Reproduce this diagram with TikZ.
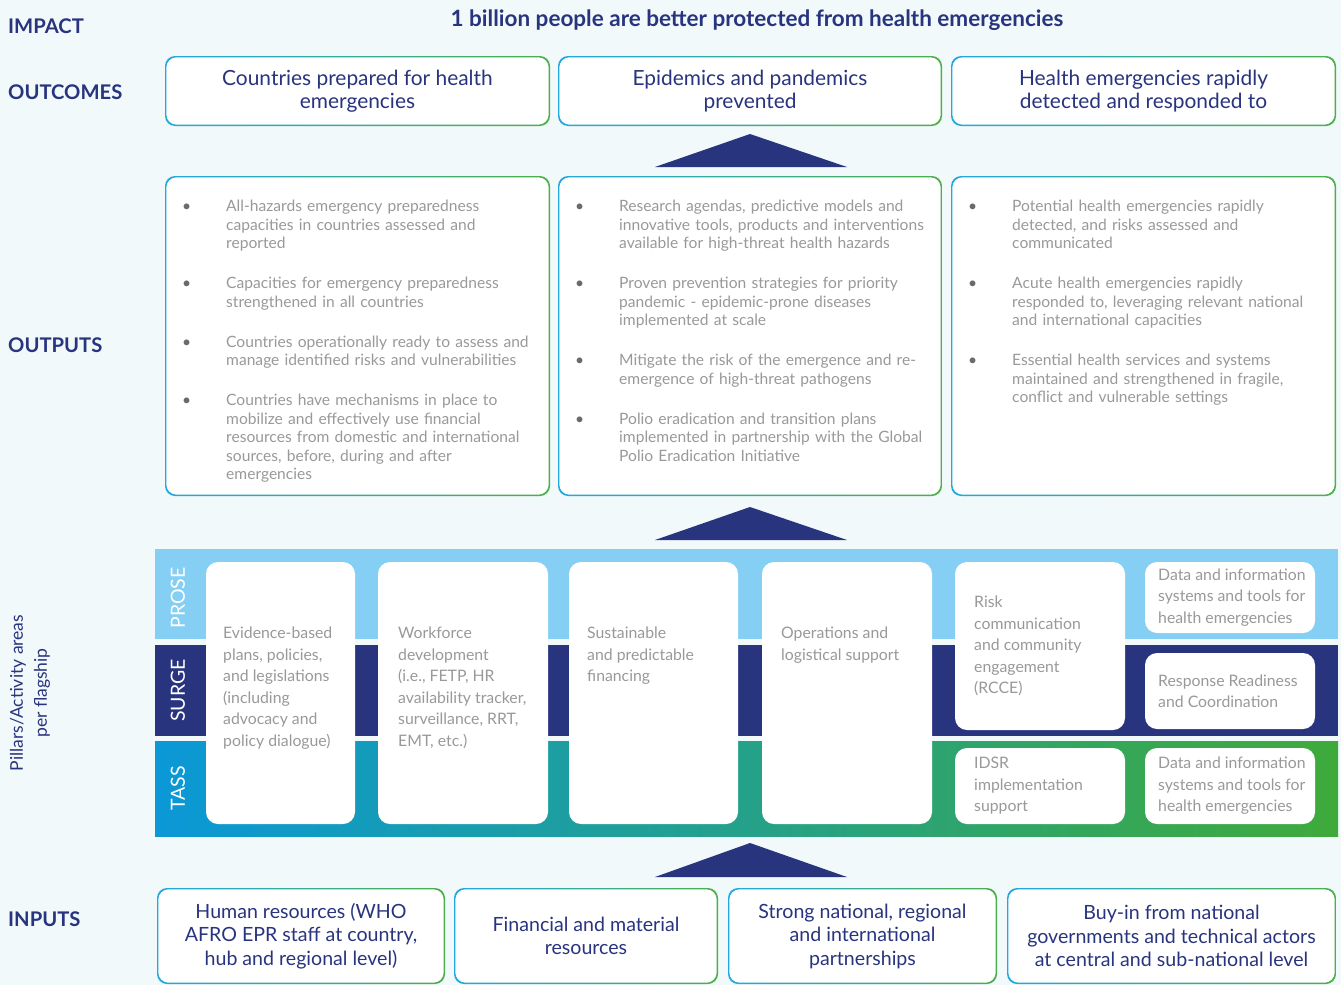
\documentclass[tikz,border=0pt]{standalone}
\usepackage{fontspec}
\setmainfont{Lato}
\usepackage{enumitem}
\usetikzlibrary{positioning,calc}

\definecolor{navy}{HTML}{29347F}
\definecolor{pagebg}{HTML}{F1F9FA}
\definecolor{prose}{HTML}{84CFF3}
\definecolor{tassblue}{HTML}{0A98D7}
\definecolor{tassteal}{HTML}{009F96}
\definecolor{tassgreen}{HTML}{3FAA3B}
\definecolor{rimblue}{HTML}{22A8E0}
\definecolor{rimgreen}{HTML}{4CAF4A}
\definecolor{txtgray}{HTML}{999999}
\definecolor{bulgray}{HTML}{6A6A6A}

\setlist[itemize]{label=\textcolor{bulgray}{\textbullet}, leftmargin=44pt, labelwidth=44pt,
  labelindent=0pt, labelsep=0pt, align=left, itemsep=21.5pt, parsep=0pt, topsep=0pt, partopsep=0pt}

\tikzset{
  rowlabel/.style={anchor=west, inner sep=0, text=navy, font=\fontsize{20.2}{23}\selectfont\bfseries},
  framebox/.style={anchor=north west, fill=white, rounded corners=10pt, inner sep=0, outer sep=0,
    align=center, text=navy, font=\fontsize{19.6}{23.5}\selectfont},
  outlist/.style={text width=370pt, inner sep=0, text=txtgray, font=\fontsize{15.6}{18.5}\selectfont},
  band/.style={anchor=north west, minimum width=1183pt, inner sep=0, outer sep=0},
  bandlabel/.style={rotate=90, inner sep=0, text=white, font=\fontsize{19.5}{19.5}\selectfont},
  tile/.style={anchor=north west, fill=white, rounded corners=12pt, inner sep=0, outer sep=0,
    minimum width=170pt},
  tiletext/.style={inner sep=0, align=left, text=txtgray, font=\fontsize{15.8}{21.5}\selectfont},
}

% blue-to-green rim round a white box
\newcommand\rim[1]{%
  \shade[even odd rule, rounded corners=10pt, left color=rimblue, right color=rimgreen]
    (#1.north west) rectangle (#1.south east)
    ($(#1.north west)+(1.3pt,-1.3pt)$) rectangle ($(#1.south east)+(-1.3pt,1.3pt)$);}

\begin{document}
\begin{tikzpicture}[x=1pt,y=-1pt]
  \fill[pagebg] (0,0) rectangle (1341,985);
  \useasboundingbox (0,0) rectangle (1341,985);

  % row headings
  \node[rowlabel] (impact) at (8,26) {IMPACT};
  \node[rowlabel] (outcomes) at (8,92) {OUTCOMES};
  \node[rowlabel] (outputs) at (8,345) {OUTPUTS};
  \node[rowlabel] (inputs) at (8,919) {INPUTS};
  \node[rowlabel, anchor=center, font=\fontsize{22.5}{26}\selectfont\bfseries] (goal) at (757,20)
    {1 billion people are better protected from health emergencies};
  \node[rotate=90, align=center, inner sep=0, text=navy, font=\fontsize{17.5}{24}\selectfont]
    (pillars) at (30,693) {Pillars/Activity areas\\per flagship};

  % outcomes
  \node[framebox, minimum width=385pt, minimum height=70pt, font=\fontsize{20.9}{23.5}\selectfont]
    (oc1) at (165,56) {Countries prepared for health\\emergencies};
  \node[framebox, minimum width=384pt, minimum height=70pt, font=\fontsize{20.9}{23.5}\selectfont]
    (oc2) at (558,56) {Epidemics and pandemics\\prevented};
  \node[framebox, minimum width=385pt, minimum height=70pt, font=\fontsize{20.9}{23.5}\selectfont]
    (oc3) at (951,56) {Health emergencies rapidly\\detected and responded to};

  % outputs
  \node[framebox, minimum width=385pt, minimum height=320pt] (op1) at (165,176) {};
  \node[framebox, minimum width=384pt, minimum height=320pt] (op2) at (558,176) {};
  \node[framebox, minimum width=385pt, minimum height=320pt] (op3) at (951,176) {};

  \node[outlist, below right=17pt and 17pt of op1.north west] (op1t) {\begin{itemize}
    \item All-hazards emergency preparedness\\capacities in countries assessed and\\reported
    \item Capacities for emergency preparedness\\strengthened in all countries
    \item Countries operationally ready to assess and\\manage identified risks and vulnerabilities
    \item Countries have mechanisms in place to\\mobilize and effectively use financial\\resources from domestic and international\\sources, before, during and after\\emergencies
  \end{itemize}};
  \node[outlist, below right=17pt and 17pt of op2.north west] (op2t) {\begin{itemize}
    \item Research agendas, predictive models and\\innovative tools, products and interventions\\available for high-threat health hazards
    \item Proven prevention strategies for priority\\pandemic - epidemic-prone diseases\\implemented at scale
    \item Mitigate the risk of the emergence and re-\\emergence of high-threat pathogens
    \item Polio eradication and transition plans\\implemented in partnership with the Global\\Polio Eradication Initiative
  \end{itemize}};
  \node[outlist, below right=17pt and 17pt of op3.north west] (op3t) {\begin{itemize}
    \item Potential health emergencies rapidly\\detected, and risks assessed and\\communicated
    \item Acute health emergencies rapidly\\responded to, leveraging relevant national\\and international capacities
    \item Essential health services and systems\\maintained and strengthened in fragile,\\conflict and vulnerable settings
  \end{itemize}};

  % pillar bands
  \node[band, minimum height=90pt, fill=prose] (prose) at (155,549) {};
  \node[band, minimum height=91pt, fill=navy] (surge) at (155,645) {};
  \node[band, minimum height=95pt, left color=tassblue, middle color=tassteal,
    right color=tassgreen] (tass) at (155,741) {};
  \node[bandlabel] (prosel) at ([xshift=23pt,yshift=-4pt]prose.west) {PROSE};
  \node[bandlabel] (surgel) at ([xshift=23pt]surge.west) {SURGE};
  \node[bandlabel] (tassl) at ([xshift=23pt]tass.west) {TASS};

  % activity tiles
  \node[tile, minimum width=149pt, minimum height=262pt] (c1) at (206,562) {};
  \node[tile, minimum height=262pt] (c2) at (378,562) {};
  \node[tile, minimum width=169pt, minimum height=262pt] (c3) at (569,562) {};
  \node[tile, minimum height=262pt] (c4) at (762,562) {};
  \node[tile, minimum height=168pt] (rcce) at (955,562) {};
  \node[tile, minimum height=71pt] (data1) at (1145,562) {};
  \node[tile, minimum height=76pt] (ready) at (1145,653) {};
  \node[tile, minimum height=76pt] (idsr) at (955,748) {};
  \node[tile, minimum height=76pt] (data2) at (1145,748) {};

  \node[tiletext, below right=65pt and 17pt of c1.north west] (c1t)
    {Evidence-based\\plans, policies,\\and legislations\\(including\\advocacy and\\policy dialogue)};
  \node[tiletext, below right=65pt and 20pt of c2.north west] (c2t)
    {Workforce\\development\\(i.e., FETP, HR\\availability tracker,\\surveillance, RRT,\\EMT, etc.)};
  \node[tiletext, below right=65pt and 18pt of c3.north west] (c3t)
    {Sustainable\\and predictable\\financing};
  \node[tiletext, below right=65pt and 19pt of c4.north west] (c4t)
    {Operations and\\logistical support};
  \node[tiletext, right=19pt of rcce.west] (rccet)
    {Risk\\communication\\and community\\engagement\\(RCCE)};
  \node[tiletext, right=13pt of data1.west] (data1t)
    {Data and information\\systems and tools for\\health emergencies};
  \node[tiletext, right=13pt of ready.west] (readyt)
    {Response Readiness\\and Coordination};
  \node[tiletext, right=19pt of idsr.west] (idsrt)
    {IDSR\\implementation\\support};
  \node[tiletext, right=13pt of data2.west] (data2t)
    {Data and information\\systems and tools for\\health emergencies};

  % inputs
  \node[framebox, minimum width=288pt, minimum height=96pt] (in1) at (157,888)
    {Human resources (WHO\\AFRO EPR staff at country,\\hub and regional level)};
  \node[framebox, minimum width=264pt, minimum height=96pt] (in2) at (454,888)
    {Financial and material\\resources};
  \node[framebox, minimum width=269pt, minimum height=96pt] (in3) at (728,888)
    {Strong national, regional\\and international\\partnerships};
  \node[framebox, minimum width=329pt, minimum height=96pt] (in4) at (1007,888)
    {Buy-in from national\\governments and technical actors\\at central and sub-national level};

  \foreach \b in {oc1,oc2,oc3,op1,op2,op3,in1,in2,in3,in4}
    \rim{\b};

  % arrows between the rows
  \foreach \ya/\yb in {134/167,507/540,843/877}
    \fill[navy] (655,\yb) -- (750,\ya) -- (847,\yb) -- cycle;
\end{tikzpicture}
\end{document}
